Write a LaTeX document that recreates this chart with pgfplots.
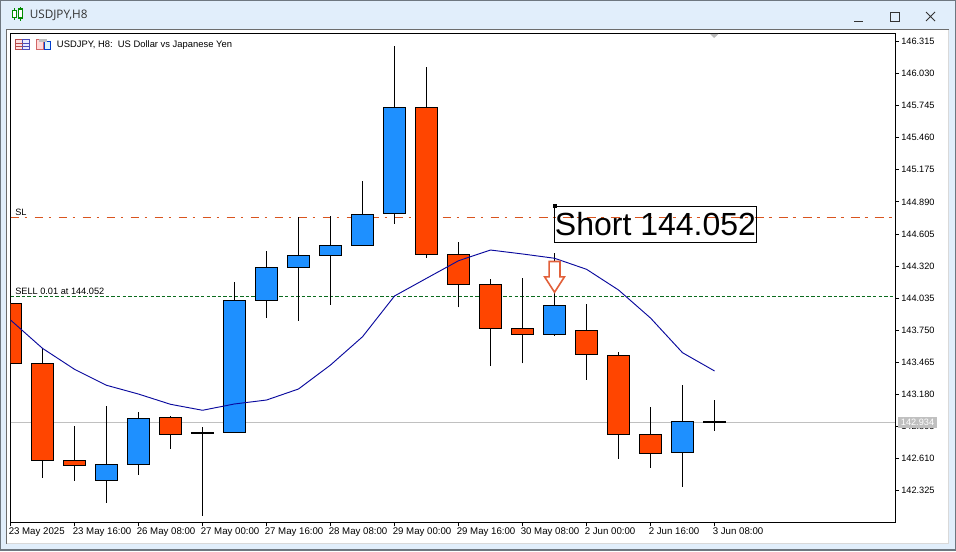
\documentclass[border=0pt]{standalone}
\usepackage{fontspec}
\setmainfont{Liberation Sans}
\newfontfamily\titlefont{Open Sans}
\usepackage{pgfplots}
\pgfplotsset{compat=1.18}
\definecolor{frameblue}{HTML}{E1EEFB}
\definecolor{frameedge}{HTML}{6E7780}
\definecolor{upblue}{HTML}{1E90FF}
\definecolor{downred}{HTML}{FF4500}
\definecolor{stopcolor}{HTML}{D9541E}
\definecolor{arrowcolor}{HTML}{E2603A}
\definecolor{sellcolor}{HTML}{0B6B1E}
\definecolor{macolor}{HTML}{0A0A9E}
\definecolor{lastgrey}{HTML}{C0C0C0}
% x, colour, low, body bottom, body top, high
\newcommand{\candle}[6]{%
\addplot[black, line width=0.8pt] coordinates {(#1,#3) (#1,#6)};
\addplot[draw=black, fill=#2, line width=0.8pt] coordinates {(#1-0.345,#4) (#1+0.345,#4) (#1+0.345,#5) (#1-0.345,#5)} --cycle;}
% x, low, level, high
\newcommand{\doji}[4]{%
\addplot[black, line width=0.8pt] coordinates {(#1,#2) (#1,#4)};
\addplot[black, line width=1.5pt] coordinates {(#1-0.36,#3) (#1+0.36,#3)};}
\begin{document}
\begin{tikzpicture}[x=0.75pt,y=-0.75pt]
\path[use as bounding box] (0,0) rectangle (956,551);
% window chrome
\fill[frameedge] (0,0) rectangle (956,551);
\fill[frameblue] (1,1) rectangle (955,549);
\fill[white] (7,30) rectangle (949,543);
\draw[line width=0.75pt,color=gray!85!black] (6.5,543.5) -- (6.5,29.5) -- (948.5,29.5);
\draw[line width=0.75pt,color=gray!30] (6.5,543.5) -- (948.5,543.5) -- (948.5,29.5);
% title icon
\draw[green!55!black,line width=0.9pt,fill=white] (12.5,10.5) rectangle (16.5,17.5);
\draw[green!55!black,line width=0.9pt,fill=white] (18.5,9) rectangle (22.5,18);
\draw[green!55!black,line width=0.9pt] (14.5,8) -- (14.5,10.5) (14.5,17.5) -- (14.5,20) (20.5,7) -- (20.5,9) (20.5,18) -- (20.5,21);
\node[anchor=west,inner sep=0pt,text=black!80] at (29.5,15) {\titlefont\fontsize{8.8}{11}\selectfont USDJPY,H8};
% window buttons
\draw[black!80,line width=0.75pt] (854,21) -- (863,21);
\draw[black!80,line width=0.75pt] (890.5,12.5) rectangle (899,21);
\draw[black!80,line width=0.75pt] (926,12) -- (935,21) (926,21) -- (935,12);
\coordinate (AO) at (10.5,522.3);
\begin{axis}[
  at={(AO)}, anchor=south west,
  scale only axis,
  width=663.4pt, height=366.6pt,
  xmin=0, xmax=27.64,
  ymin=142.045, ymax=146.386,
  axis line style={black,line width=0.8pt},
  xtick pos=bottom, ytick pos=right,
  xtick={0,2,...,22},
  xticklabels={23 May 2025,23 May 16:00,26 May 08:00,27 May 00:00,27 May 16:00,28 May 08:00,29 May 00:00,29 May 16:00,30 May 08:00,2 Jun 00:00,2 Jun 16:00,3 Jun 08:00},
  ytick={146.315,146.030,145.745,145.460,145.175,144.890,144.605,144.320,144.035,143.750,143.465,143.180,142.895,142.610,142.325},
  tick style={black,line width=0.75pt},
  major tick length=3pt,
  tick align=outside,
  xticklabel style={font=\fontsize{7.25}{8}\selectfont, anchor=north west, xshift=-3.5pt, inner xsep=2pt, inner ysep=1pt},
  yticklabel style={font=\fontsize{6.9}{8}\selectfont, inner xsep=1.5pt},
  /pgf/number format/assume math mode=true,
  y tick label style={/pgf/number format/.cd, fixed, fixed zerofill, precision=3, 1000 sep={}},
]
% levels behind the candles
\addplot[color=lastgrey, line width=0.8pt] coordinates {(0,142.934) (27.64,142.934)};
% stop level 144.752, drawn as dash-dot pieces
\pgfplotsinvokeforeach{0,0.75,...,27}{
\addplot[color=stopcolor, line width=0.8pt] coordinates {(#1,144.752) (#1+0.28,144.752)};
\addplot[color=stopcolor, line width=0.8pt] coordinates {(#1+0.44,144.752) (#1+0.53,144.752)};
}
\addplot[color=sellcolor, line width=0.8pt, dash pattern=on 2.6pt off 1.6pt] coordinates {(0,144.052) (27.64,144.052)};
\candle{0}{downred}{143.457}{143.457}{143.990}{143.990}
\candle{1}{downred}{142.441}{142.596}{143.457}{143.590}
\candle{2}{downred}{142.414}{142.551}{142.596}{142.900}
\candle{3}{upblue}{142.219}{142.418}{142.560}{143.078}
\candle{4}{upblue}{142.468}{142.560}{142.969}{143.025}
\candle{5}{downred}{142.699}{142.826}{142.977}{142.989}
\doji{6}{142.104}{142.838}{142.891}
\candle{7}{upblue}{142.844}{142.844}{144.017}{144.182}
\candle{8}{upblue}{143.862}{144.017}{144.310}{144.454}
\candle{9}{upblue}{143.835}{144.310}{144.416}{144.759}
\candle{10}{upblue}{143.978}{144.416}{144.505}{144.765}
\candle{11}{upblue}{144.505}{144.505}{144.780}{145.076}
\candle{12}{upblue}{144.697}{144.789}{145.731}{146.275}
\candle{13}{downred}{144.395}{144.425}{145.731}{146.089}
\candle{14}{downred}{143.954}{144.159}{144.425}{144.534}
\candle{15}{downred}{143.433}{143.768}{144.159}{144.206}
\candle{16}{downred}{143.457}{143.715}{143.768}{144.215}
\candle{17}{upblue}{143.702}{143.715}{143.972}{144.434}
\candle{18}{downred}{143.309}{143.537}{143.750}{143.984}
\candle{19}{downred}{142.610}{142.826}{143.528}{143.555}
\candle{20}{downred}{142.530}{142.658}{142.826}{143.069}
\candle{21}{upblue}{142.361}{142.667}{142.942}{143.264}
\doji{22}{142.858}{142.938}{143.131}
% moving average
\addplot[color=macolor, line width=0.7pt] coordinates {
(0,143.842)(1,143.590)(2,143.404)(3,143.262)(4,143.184)(5,143.093)(6,143.040)(7,143.096)
(8,143.131)(9,143.229)(10,143.442)(11,143.693)(12,144.055)(13,144.212)(14,144.368)(15,144.463)
(16,144.428)(17,144.390)(18,144.292)(19,144.108)(20,143.859)(21,143.551)(22,143.389)};
% sell arrow
\addplot[color=arrowcolor, fill=white, line width=1.2pt, line join=miter] coordinates {
(16.83,144.361)(17.17,144.361)(17.17,144.225)(17.31,144.225)(17,144.088)(16.69,144.225)(16.83,144.225)} --cycle;
\end{axis}
% texts over the chart
\node[anchor=west,inner sep=0pt] at (56.7,45) {\fontsize{7.05}{8}\selectfont USDJPY, H8:\ \ US Dollar vs Japanese Yen};
\node[anchor=west,inner sep=0pt] at (15,212) {\fontsize{6.9}{8}\selectfont SL};
\node[anchor=west,inner sep=0pt] at (15,291) {\fontsize{6.9}{8}\selectfont SELL 0.01 at 144.052};
% chart header icons
\draw[red!60!black!70,line width=0.75pt,fill=red!12] (15.5,39.5) rectangle (22.5,49.5);
\draw[blue!60!black!70,line width=0.75pt,fill=blue!8] (22.5,39.5) rectangle (29.5,49.5);
\draw[red!60!black!70,line width=0.75pt] (15.5,43) -- (22.5,43) (15.5,46.2) -- (22.5,46.2);
\draw[blue!60!black!70,line width=0.75pt] (22.5,43) -- (29.5,43) (22.5,46.2) -- (29.5,46.2);
\draw[red!70!black!60,line width=0.75pt,fill=red!15] (36.5,39.5) rectangle (43.5,49.5);
\draw[blue!70!cyan!80!black,line width=0.75pt,fill=cyan!15] (44.5,41.5) rectangle (50.5,49.5);
\fill[gray!50] (39,39) rectangle (47,42);
% top marker
\fill[gray!55] (710,33.8) -- (718.5,33.8) -- (714.2,38) -- cycle;
% label box
\draw[black,line width=0.75pt] (554.5,206.5) rectangle (756.5,242.5);
\node[anchor=center,inner sep=0pt] at (655.5,224.5) {\fontsize{24}{28}\selectfont Short 144.052};
\fill[black] (552.5,204) rectangle (556.5,208);
% last price tag
\fill[lastgrey] (897.7,417.3) rectangle (937.3,427.7);
\node[anchor=center,inner sep=0pt,text=white] at (917.5,422.5) {\fontsize{6.9}{8}\selectfont 142.934};
\end{tikzpicture}
\end{document}
